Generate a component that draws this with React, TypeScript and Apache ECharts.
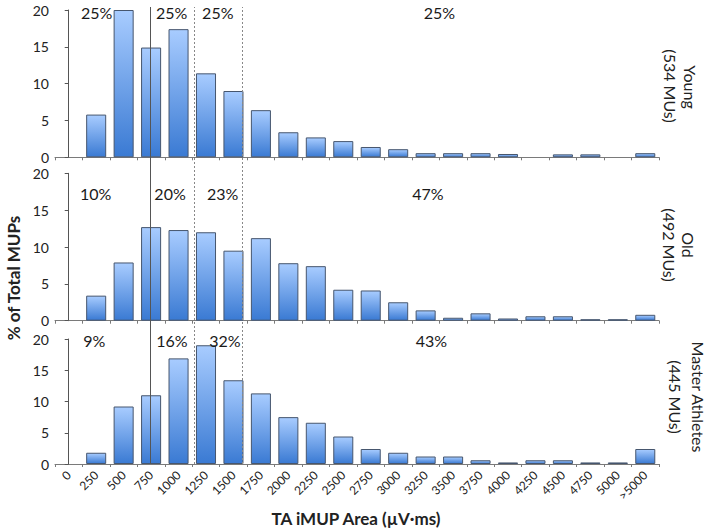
import React, { useEffect, useRef } from "react";
import * as echarts from "echarts";

const categories = ["0", "250", "500", "750", "1000", "1250", "1500", "1750", "2000", "2250", "2500", "2750", "3000", "3250", "3500", "3750", "4000", "4250", "4500", "4750", "5000", ">5000"];
const young = [0, 5.8, 20.0, 14.9, 17.4, 11.4, 9.0, 6.4, 3.4, 2.7, 2.2, 1.4, 1.1, 0.56, 0.56, 0.56, 0.45, 0, 0.4, 0.4, 0, 0.56];
const old = [0, 3.4, 7.9, 12.7, 12.3, 12.0, 9.5, 11.2, 7.8, 7.4, 4.2, 4.1, 2.5, 1.4, 0.4, 1.0, 0.3, 0.6, 0.6, 0.2, 0.2, 0.8];
const master = [0, 1.8, 9.2, 11.0, 16.9, 19.0, 13.4, 11.3, 7.5, 6.6, 4.4, 2.4, 1.8, 1.2, 1.2, 0.6, 0.25, 0.6, 0.6, 0.25, 0.25, 2.4];
// quartile boundaries, in category-index units
const quartiles = [2.96, 4.587, 6.334];
// percentage annotations: [x (category index units), y (%), text]
const youngPct = [[1.02, 19.6, "25%"], [3.75, 19.6, "25%"], [5.43, 19.6, "25%"], [13.5, 19.6, "25%"]];
const oldPct = [[0.98, 17.3, "10%"], [3.69, 17.3, "20%"], [5.61, 17.3, "23%"], [13.08, 17.3, "47%"]];
const masterPct = [[0.93, 19.8, "9%"], [3.76, 19.8, "16%"], [5.69, 19.8, "32%"], [13.21, 19.8, "43%"]];
const groupNames = ["Young", "Old", "Master Athletes"];
const groupCounts = ["(534 MUs)", "(492 MUs)", "(445 MUs)"];

const FONT = "Lato";

export default function App() {
  const ref = useRef<HTMLDivElement>(null);
  useEffect(() => {
    document.body.style.margin = "0";
    if (!ref.current) return;
    const chart = echarts.init(ref.current, null, { renderer: "svg" });
    const grids = [
      { left: 55, width: 604, top: 10, height: 147.3 },
      { left: 55, width: 604, top: 173.3, height: 147.4 },
      { left: 55, width: 604, top: 339, height: 125 },
      { left: 55, width: 604, top: 7, height: 457 },
    ];
    const barColor = new echarts.graphic.LinearGradient(0, 0, 0, 1, [
      { offset: 0, color: "#a8ccff" },
      { offset: 1, color: "#3a7ad3" },
    ]);
    const catAxis = (i: number) => ({
      type: "category",
      gridIndex: i,
      data: categories,
      boundaryGap: true,
      axisLine: { show: true, lineStyle: { color: "#7a7a7a", width: 1 } },
      axisTick: { show: true, length: 3, lineStyle: { color: "#7a7a7a" } },
      axisLabel: {
        show: i === 2,
        rotate: 45,
        fontSize: 12,
        color: "#222",
        margin: 9,
        fontFamily: FONT,
        interval: 0,
      },
      splitLine: { show: false },
    });
    const hidX = (g: number) => ({ type: "value", gridIndex: g, min: -0.5, max: 21.5, show: false });
    const valAxis = (i: number) => ({
      type: "value",
      gridIndex: i,
      min: 0,
      max: 20,
      interval: 5,
      axisLine: { show: true, lineStyle: { color: "#555", width: 1 } },
      axisTick: { show: true, length: 4, lineStyle: { color: "#555" } },
      axisLabel: { fontSize: 14, color: "#222", margin: 6, fontFamily: FONT },
      splitLine: { show: false },
    });
    const barSeries = (i: number, data: number[]) => ({
      type: "bar",
      xAxisIndex: i,
      yAxisIndex: i,
      data: data.map((v) => (v === 0 ? "-" : v)),
      barWidth: "73%",
      itemStyle: { color: barColor, borderColor: "#46566e", borderWidth: 1 },
    });
    const pctSeries = (i: number, data: any[]) => ({
      type: "scatter",
      xAxisIndex: 3 + i,
      yAxisIndex: i,
      data,
      symbolSize: 0.1,
      itemStyle: { color: "#ffffff", opacity: 1 },
      silent: true,
      label: {
        show: true,
        position: "inside",
        formatter: (p: any) => p.value[2],
        fontSize: 16,
        color: "#1a1a1a",
        textBorderWidth: 0,
        fontFamily: FONT,
      },
    });
    const sideText = (x: number, y: number, text: string) => ({
      type: "text",
      x,
      y,
      rotation: -Math.PI / 2,
      style: {
        text,
        fontSize: 16,
        fontFamily: FONT,
        fill: "#222",
        align: "center",
        verticalAlign: "middle",
      },
    });
    const option: any = {
      animation: false,
      textStyle: { fontFamily: FONT },
      grid: grids,
      xAxis: [catAxis(0), catAxis(1), catAxis(2), hidX(0), hidX(1), hidX(2), hidX(3)],
      yAxis: [valAxis(0), valAxis(1), valAxis(2), { type: "value", gridIndex: 3, min: 0, max: 1, show: false }],
      series: [
        barSeries(0, young),
        barSeries(1, old),
        barSeries(2, master),
        pctSeries(0, youngPct),
        pctSeries(1, oldPct),
        pctSeries(2, masterPct),
        {
          type: "line",
          xAxisIndex: 6,
          yAxisIndex: 3,
          data: [[-0.5, -1]],
          showSymbol: false,
          lineStyle: { opacity: 0 },
          silent: true,
          markLine: {
            silent: true,
            symbol: ["none", "none"],
            label: { show: false },
            data: quartiles.map((q, k) => ({
              xAxis: q,
              lineStyle: k === 0
                ? { color: "#555", width: 1, type: "solid" }
                : { color: "#888", width: 1, type: [2, 2] },
            })),
          },
        },
      ],
      graphic: [
        sideText(690, 87, groupNames[0]),
        sideText(670, 86, groupCounts[0]),
        sideText(688, 245, groupNames[1]),
        sideText(669, 245, groupCounts[1]),
        sideText(698, 397, groupNames[2]),
        sideText(675, 397, groupCounts[2]),
        {
          type: "text",
          x: 13,
          y: 278,
          rotation: Math.PI / 2,
          style: {
            text: "% of Total MUPs",
            fontSize: 17,
            fontWeight: "bold",
            fontFamily: FONT,
            fill: "#222",
            align: "center",
            verticalAlign: "middle",
          },
        },
        {
          type: "text",
          x: 356,
          y: 518,
          style: {
            text: "TA iMUP Area (µV·ms)",
            fontSize: 17,
            fontWeight: "bold",
            fontFamily: FONT,
            fill: "#222",
            align: "center",
            verticalAlign: "middle",
          },
        },
      ],
    };
    chart.setOption(option);
    return () => chart.dispose();
  }, []);
  return <div ref={ref} style={{ width: 709, height: 530 }} />;
}
